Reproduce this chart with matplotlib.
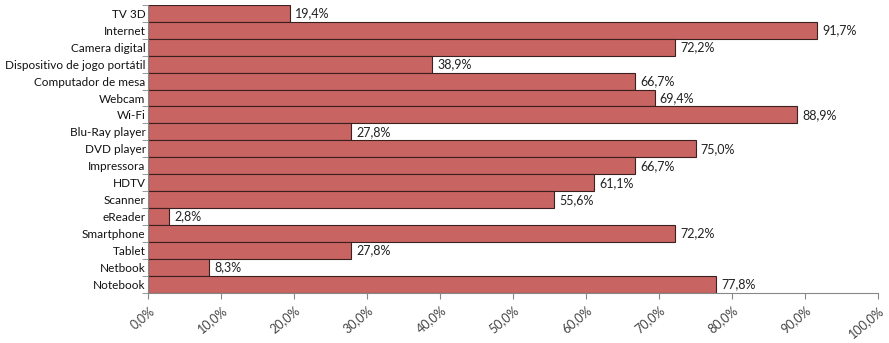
import matplotlib.pyplot as plt
from matplotlib.ticker import FuncFormatter

categories = ['TV 3D', 'Internet', 'Camera digital', 'Dispositivo de jogo portátil',
              'Computador de mesa', 'Webcam', 'Wi-Fi', 'Blu-Ray player', 'DVD player',
              'Impressora', 'HDTV', 'Scanner', 'eReader', 'Smartphone', 'Tablet',
              'Netbook', 'Notebook']
values = [19.4, 91.7, 72.2, 38.9, 66.7, 69.4, 88.9, 27.8, 75.0,
          66.7, 61.1, 55.6, 2.8, 72.2, 27.8, 8.3, 77.8]
xticks = [0, 10, 20, 30, 40, 50, 60, 70, 80, 90, 100]

plt.rcParams['font.family'] = ['Lato', 'DejaVu Sans']

fig = plt.figure(figsize=(8.89, 3.43), dpi=100)
ax = fig.add_axes([0.167, 0.146, 0.8206, 0.84])

pos = list(range(len(categories)))[::-1]
ax.barh(pos, values, height=1.0, color='#C86462', edgecolor='#3a2020', linewidth=0.8)

for y, v in zip(pos, values):
    ax.text(v + 0.7, y, f'{v:.1f}%'.replace('.', ','), va='center', ha='left',
            fontsize=9, color='#222222')

ax.set_xlim(0, 100)
ax.set_ylim(-0.5, len(categories) - 0.5)
ax.set_yticks(pos)
ax.set_yticklabels(categories, fontsize=8.5, color='#111111')
ax.set_xticks(xticks)
ax.xaxis.set_major_formatter(FuncFormatter(lambda x, p: f'{x:.1f}%'.replace('.', ',')))
for lab in ax.get_xticklabels():
    lab.set_rotation(40)
    lab.set_ha('right')
    lab.set_rotation_mode('anchor')
    lab.set_fontsize(9)
    lab.set_color('#444444')

ax.spines['top'].set_visible(False)
ax.spines['right'].set_visible(False)
ax.spines['left'].set_color('#888888')
ax.spines['bottom'].set_color('#888888')
ax.tick_params(axis='x', length=4, color='#888888', pad=4)
ax.tick_params(axis='y', length=4, color='#888888', pad=2)
# ticks at category boundaries on the y axis
ax.set_yticks([p + 0.5 for p in range(-1, len(categories))], minor=True)
ax.tick_params(axis='y', which='major', length=0)
ax.tick_params(axis='y', which='minor', length=4, color='#888888')

plt.savefig('out.png', dpi=100)
plt.close()
